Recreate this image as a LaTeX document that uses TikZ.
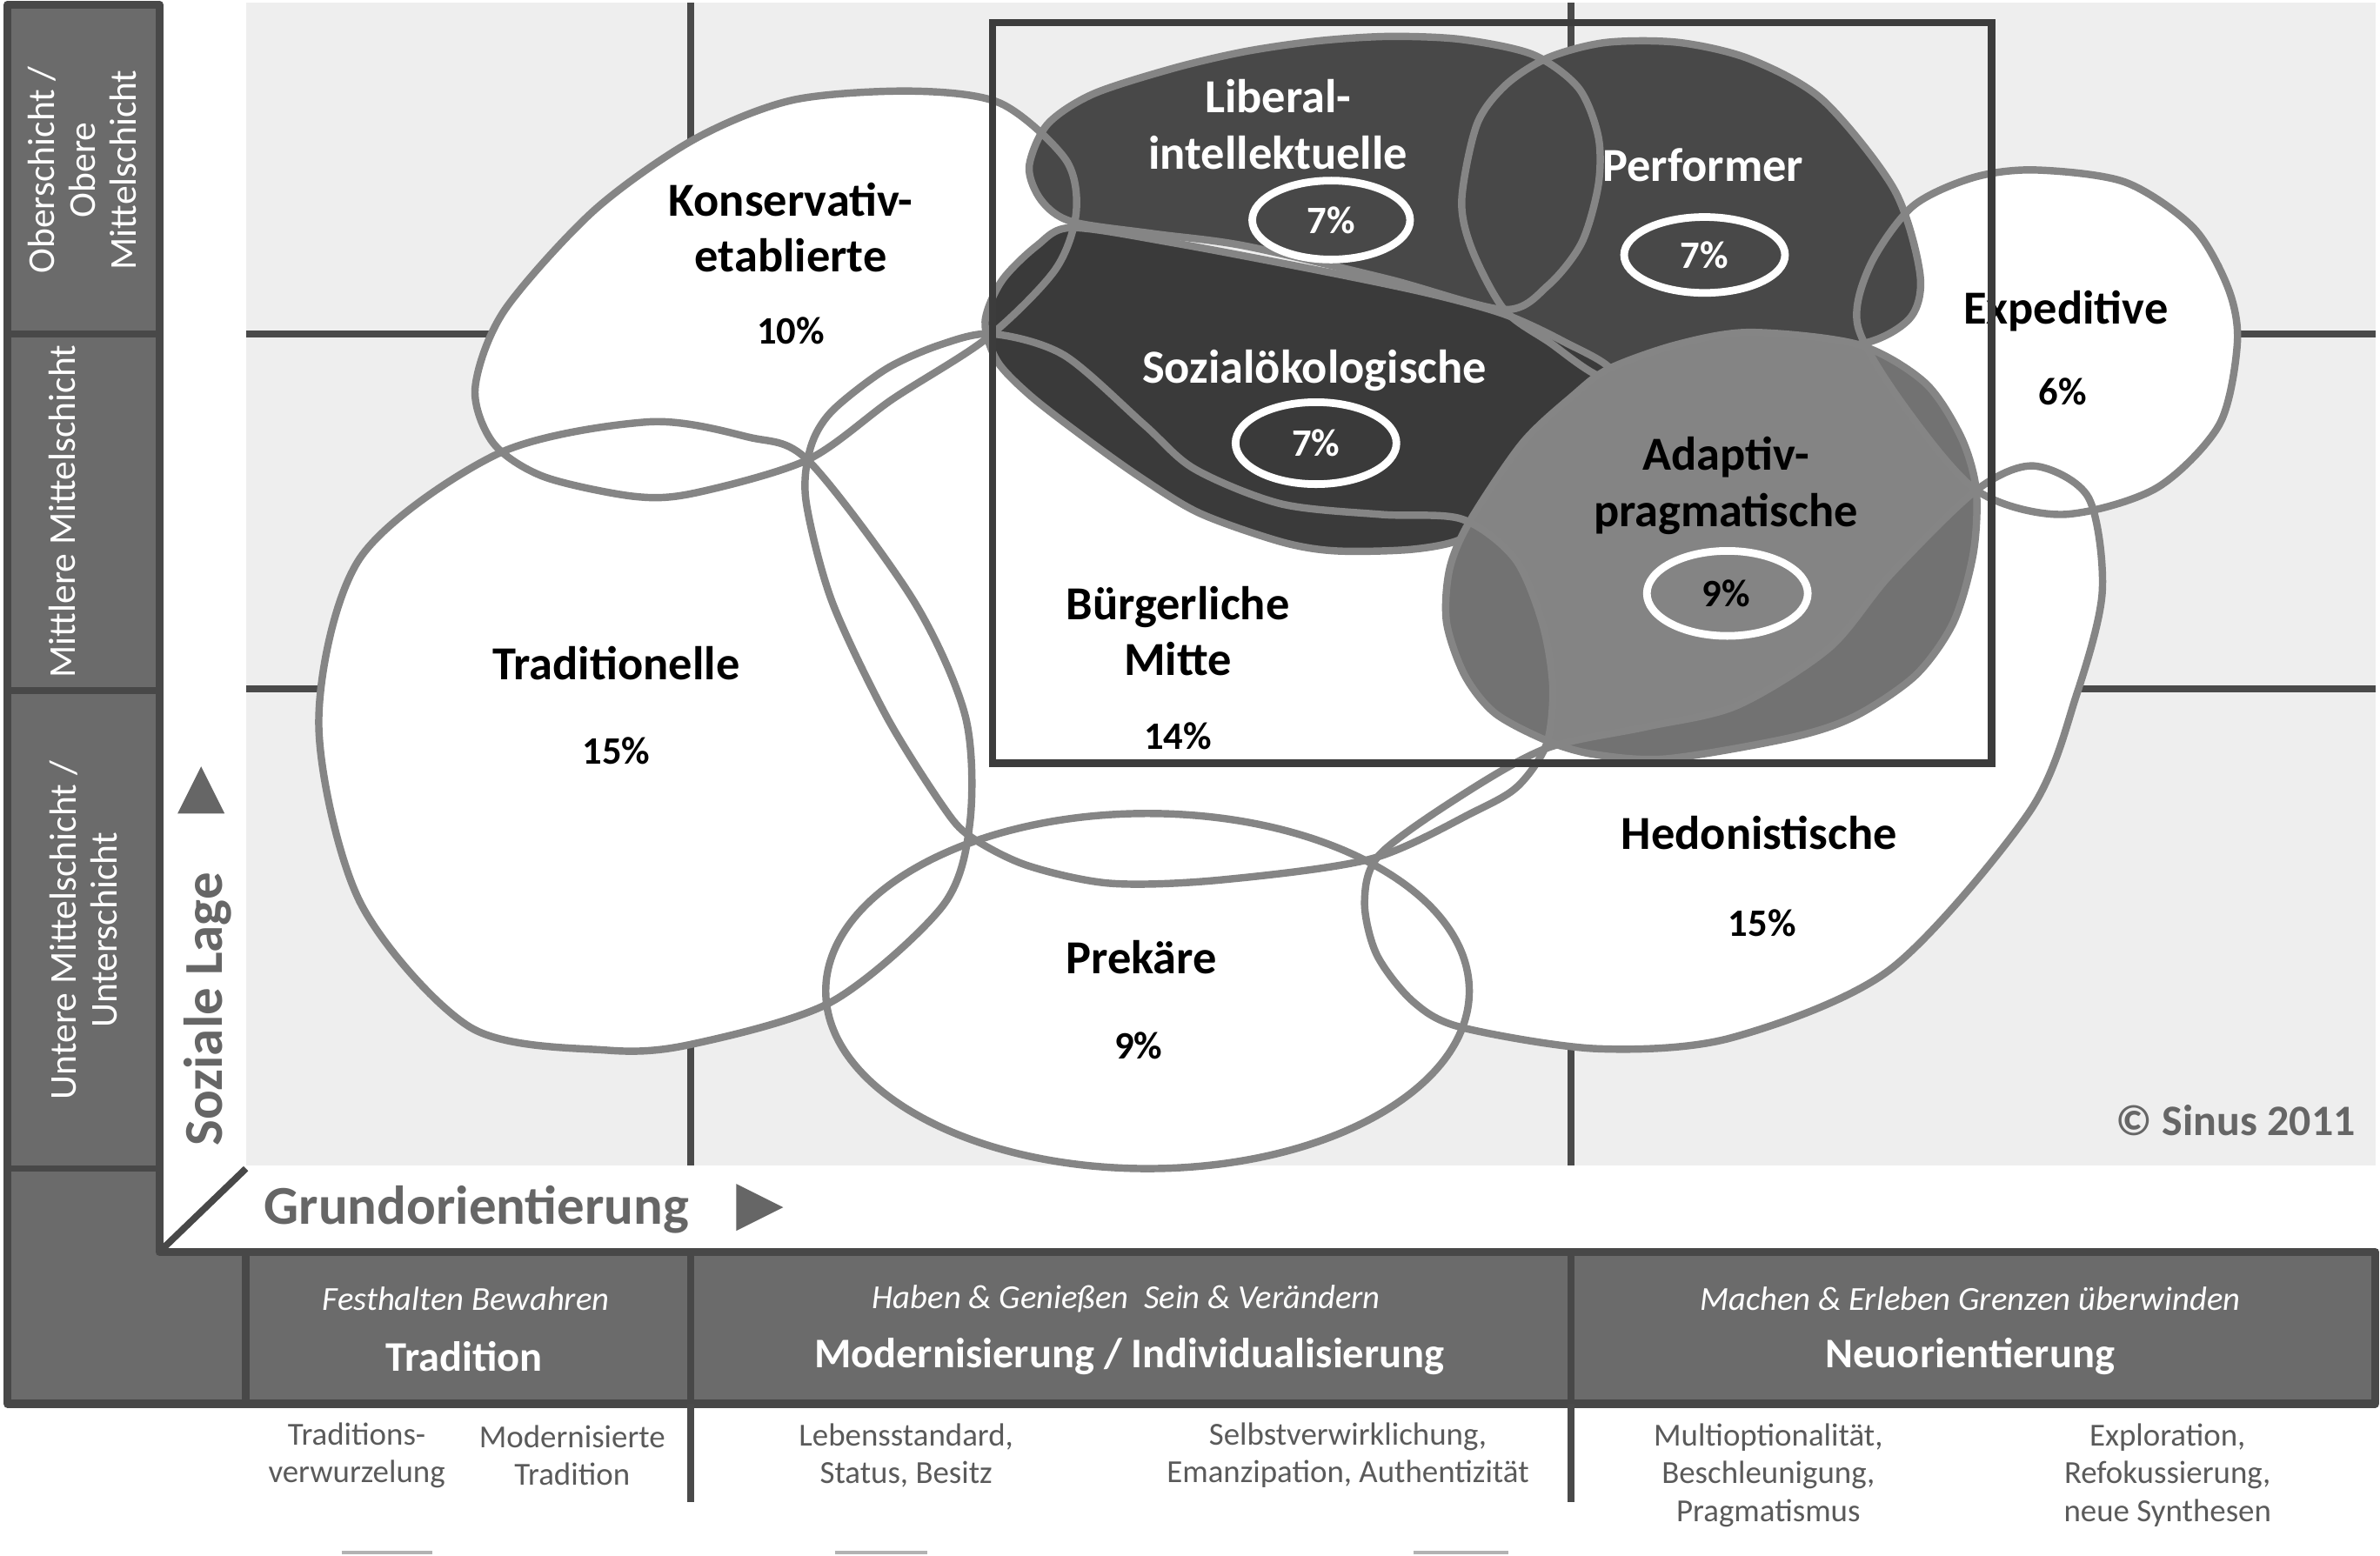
\documentclass[tikz,border=0pt]{standalone}
\usepackage{fontspec}
\setmainfont{Carlito}
\definecolor{framec}{HTML}{484848}
\definecolor{cellc}{HTML}{6B6B6B}
\definecolor{plotbg}{HTML}{EEEEEE}
\definecolor{gridc}{HTML}{4A4A4A}
\definecolor{outl}{HTML}{858585}
\definecolor{darkA}{HTML}{484848}
\definecolor{darkB}{HTML}{3A3A3A}
\definecolor{midA}{HTML}{848484}
\definecolor{midB}{HTML}{727272}
\definecolor{axtxt}{HTML}{666666}
\definecolor{subtxt}{HTML}{5A5A5A}
\definecolor{rectc}{HTML}{3C3C3C}
\begin{document}
\begin{tikzpicture}[x=0.1745mm,y=-0.1745mm,
  gridline/.style={draw=gridc,line width=2.4pt},
  shapeline/.style={draw=outl,line width=2.4pt},
  ring/.style={draw=white,line width=2.5pt},
  lab/.style={font=\fontsize{15.5}{18.3}\selectfont\bfseries,align=center,inner sep=0pt},
  pct/.style={font=\fontsize{12.7}{15}\selectfont\bfseries,inner sep=0pt},
  coltxt/.style={font=\fontsize{12.4}{13.4}\selectfont,text=white,align=center,inner sep=0pt},
  axislab/.style={font=\fontsize{17.9}{20}\selectfont\bfseries,text=axtxt,inner sep=0pt},
  bandit/.style={font=\fontsize{11}{13}\selectfont\itshape,text=white,inner sep=0pt},
  bandbf/.style={font=\fontsize{13.8}{16}\selectfont\bfseries,text=white,inner sep=0pt},
  subt/.style={font=\fontsize{10.5}{12.4}\selectfont,text=subtxt,align=center,inner sep=0pt},
  copyt/.style={font=\fontsize{14.2}{16}\selectfont\bfseries,text=axtxt,inner sep=0pt}]
\useasboundingbox (0,0) rectangle (1568,1025);
\fill[white] (0,0) rectangle (1568,1025);

% plot area and grid
\fill[plotbg] (162,2) rectangle (1565,768);
\draw[gridline] (455,2) -- (455,768);
\draw[gridline] (1035,2) -- (1035,768);
\draw[gridline] (162,220) -- (1565,220);
\draw[gridline] (162,454) -- (1565,454);

% frame (left column + bottom band)
\filldraw[fill=cellc,draw=framec,line width=2.6pt,line join=round]
  (5,3) -- (105,3) -- (105,825) -- (1565,825) -- (1565,925) -- (5,925) -- cycle;
\draw[framec,line width=2.2pt] (5,220) -- (105,220);
\draw[framec,line width=2.2pt] (5,455) -- (105,455);
\draw[framec,line width=2.2pt] (5,770) -- (105,770);
\draw[framec,line width=2.4pt] (162,825) -- (162,925);
\draw[framec,line width=2.4pt] (455,825) -- (455,925);
\draw[framec,line width=2.4pt] (1035,825) -- (1035,925);
\draw[framec,line width=2.2pt] (107,823) -- (162,770);
\draw[gridline] (455,925) -- (455,990);
\draw[gridline] (1035,925) -- (1035,990);
\draw[black!30,line width=1pt] (225,1023) -- (285,1023);
\draw[black!30,line width=1pt] (550,1023) -- (611,1023);
\draw[black!30,line width=1pt] (931,1023) -- (994,1023);

% shape paths
\def\pKons{plot[smooth cycle] coordinates {(313,256) (332,205) (391,139) (457,92) (522,66) (600,60) (659,68) (702,105) (709,140) (695,178) (650,223) (588,263) (532,303) (457,325) (417,327) (358,314) (325,292)}}
\def\pTrad{plot[smooth cycle] coordinates {(210,476) (237,368) (328,299) (427,278) (493,288) (533,304) (602,396) (636,472) (639,542) (621,597) (548,660) (456,688) (400,692) (310,677) (237,594)}}
\def\pBurg{plot[smooth cycle] coordinates {(531,330) (534,295) (548,271) (584,243) (620,227) (654,220) (701,234) (754,280) (787,309) (844,332) (910,339) (963,342) (998,368) (1016,410) (1023,452) (1019,490) (1000,518) (971,535) (903,566) (802,580) (731,582) (676,570) (639,551) (621,531) (584,472) (548,396)}}
\def\pHedo{plot[smooth cycle] coordinates {(1019,493) (963,524) (909,563) (899,594) (907,629) (931,660) (963,677) (1052,691) (1140,684) (1245,639) (1337,535) (1368,458) (1385,390) (1376,328) (1340,307) (1302,323) (1245,379) (1205,427) (1144,465) (1084,479)}}
\def\pExpe{plot[smooth cycle] coordinates {(1224,215) (1232,175) (1260,136) (1300,117) (1341,112) (1400,120) (1445,150) (1468,190) (1474,226) (1462,280) (1420,322) (1358,339) (1302,323) (1254,267)}}
\def\pLibe{plot[smooth cycle] coordinates {(678,110) (690,82) (720,62) (773,45) (820,34) (868,27) (915,24) (963,26) (1010,36) (1040,58) (1053,90) (1053,122) (1042,160) (1020,188) (991,204) (915,184) (820,162) (760,154) (706,146) (686,132)}}
\def\pPerf{plot[smooth cycle] coordinates {(963,132) (973,82) (992,56) (1020,38) (1058,28) (1106,28) (1153,39) (1201,66) (1248,125) (1265,181) (1258,210) (1224,227) (1153,226) (1100,236) (1060,250) (1020,225) (991,204) (970,165)}}
\def\pSozi{plot[smooth cycle] coordinates {(649,212) (660,185) (683,162) (706,150) (773,160) (868,178) (940,193) (991,207) (1030,225) (1062,245) (1040,268) (1008,298) (980,336) (963,355) (930,362) (880,363) (844,357) (790,338) (749,313) (710,285) (678,260) (657,238)}}
\def\pAdap{plot[smooth cycle] coordinates {(1060,243) (1105,227) (1153,219) (1224,227) (1268,252) (1292,288) (1302,323) (1300,365) (1287,410) (1262,445) (1222,472) (1180,486) (1098,500) (1050,497) (1019,488) (985,470) (965,445) (953,410) (955,375) (968,344) (1003,292) (1036,261)}}

% white shapes fill
\fill[white] \pKons;
\fill[white] \pTrad;
\fill[white] \pBurg;
\fill[white] (756,653) ellipse [x radius=212, y radius=117];
\fill[white] \pHedo;
\fill[white] \pExpe;

% dark shapes
\fill[darkA] \pLibe;
\fill[darkA] \pPerf;
\fill[darkB] \pSozi;
\draw[shapeline] \pLibe;
\draw[shapeline] \pPerf;
\draw[shapeline] \pSozi;

% adaptiv
\fill[midA] \pAdap;
\begin{scope}
  \clip \pAdap;
  \fill[midB] \pBurg;
  \fill[midB] \pHedo;
  \fill[midB] \pExpe;
\end{scope}
\draw[shapeline] \pAdap;

% white shapes outlines
\draw[shapeline] \pKons;
\draw[shapeline] \pTrad;
\draw[shapeline] \pBurg;
\draw[shapeline] (756,653) ellipse [x radius=212, y radius=117];
\draw[shapeline] \pHedo;
\draw[shapeline] \pExpe;

% percent rings
\draw[ring] (877,145) ellipse [x radius=52, y radius=26];
\draw[ring] (1123,168) ellipse [x radius=53, y radius=25];
\draw[ring] (867,292) ellipse [x radius=53, y radius=27];
\draw[ring] (1138,391) ellipse [x radius=53, y radius=28];

% labels
\node[lab] (kons) at (521,150) {Konservativ-\\etablierte};
\node[pct] (konsp) at (521,218) {10\%};
\node[lab] (trad) at (406,437) {Traditionelle};
\node[pct] (tradp) at (406,495) {15\%};
\node[lab] (burg) at (776,416) {Bürgerliche\\Mitte};
\node[pct] (burgp) at (776,485) {14\%};
\node[lab] (prek) at (752,631) {Prekäre};
\node[pct] (prekp) at (750,689) {9\%};
\node[lab] (hedo) at (1159,549) {Hedonistische};
\node[pct] (hedop) at (1161,608) {15\%};
\node[lab] (expe) at (1361,205) {Expeditive};
\node[pct] (expep) at (1359,258) {6\%};
\node[lab,text=white] (libe) at (842,82) {Liberal-\\intellektuelle};
\node[pct,text=white] (libep) at (877,145) {7\%};
\node[lab,text=white] (perf) at (1122,109) {Performer};
\node[pct,text=white] (perfp) at (1123,168) {7\%};
\node[lab,text=white] (sozi) at (866,244) {Sozialökologische};
\node[pct,text=white] (sozip) at (867,292) {7\%};
\node[lab] (adap) at (1137,320) {Adaptiv-\\pragmatische};
\node[pct] (adapp) at (1137,391) {9\%};
\node[copyt] (cr) at (1473,738) {© Sinus 2011};

% frame rectangle
\draw[rectc,line width=2.4pt] (654,15) rectangle (1312,503);

% left column texts
\node[coltxt,rotate=90] (c1) at (54,112) {Oberschicht /\\Obere\\Mittelschicht};
\node[coltxt,rotate=90] (c2) at (41,337) {Mittlere Mittelschicht};
\node[coltxt,rotate=90] (c3) at (55,613) {Untere Mittelschicht /\\Unterschicht};

% axes
\node[axislab,rotate=90] (soz) at (137,665) {Soziale Lage};
\fill[axtxt] (132.5,505) -- (148,536) -- (117,536) -- cycle;
\node[axislab] (grund) at (314,797) {Grundorientierung};
\fill[axtxt] (485,780) -- (516,795.5) -- (485,811) -- cycle;

% band texts
\node[bandit] (f1) at (307,856) {Festhalten Bewahren};
\node[bandbf] (b1) at (306,894) {Tradition};
\node[bandit] (f2) at (742,856) {Haben \& Genießen \ Sein \& Verändern};
\node[bandbf] (b2) at (744,894) {Modernisierung / Individualisierung};
\node[bandit] (f3) at (1298,856) {Machen \& Erleben Grenzen überwinden};
\node[bandbf] (b3) at (1298,894) {Neuorientierung};

% sub texts
\node[subt] (s1) at (235,959) {Traditions-\\verwurzelung};
\node[subt] (s2) at (377,959) {Modernisierte\\Tradition};
\node[subt] (s3) at (597,959) {Lebensstandard,\\Status, Besitz};
\node[subt] (s4) at (888,959) {Selbstverwirklichung,\\Emanzipation, Authentizität};
\node[subt] (s5) at (1165,972) {Multioptionalität,\\Beschleunigung,\\Pragmatismus};
\node[subt] (s6) at (1428,972) {Exploration,\\Refokussierung,\\neue Synthesen};
\end{tikzpicture}
\end{document}
